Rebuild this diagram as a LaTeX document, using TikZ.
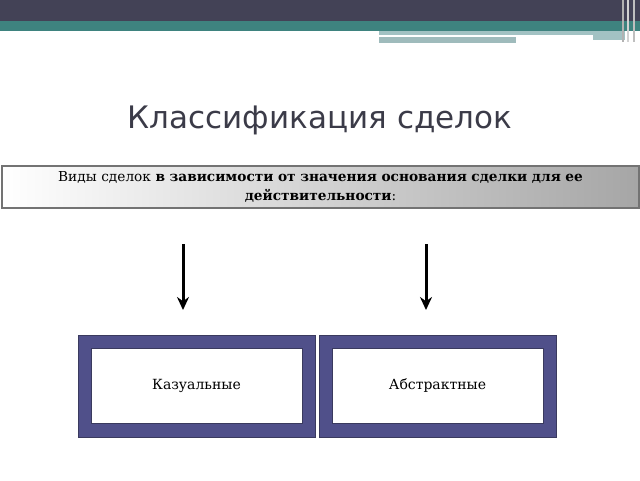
\documentclass[tikz,border=0pt]{standalone}
\usepackage{fontspec}
\setmainfont{DejaVu Serif}
\newfontfamily\titlefont{DejaVu Sans}
\usetikzlibrary{shapes.geometric, arrows, arrows.meta}
\definecolor{topbar}{HTML}{434256}
\definecolor{tealbar}{HTML}{3E837F}
\definecolor{lightteal}{HTML}{A2C2C3}
\definecolor{titlegray}{HTML}{3B3B48}
\definecolor{framecol}{HTML}{50508A}
\definecolor{framedark}{HTML}{3A3A5E}
\tikzstyle{title} = [font=\titlefont\fontsize{31}{35}\selectfont, text=titlegray, anchor=base]
\tikzstyle{header} = [rectangle, draw=gray!90!black, line width=1.3pt, left color=white, right color=gray!70, minimum width=637pt, minimum height=42pt, text width=620pt, align=center, font=\fontsize{13.7}{19}\selectfont]
\tikzstyle{frame} = [rectangle, draw=framedark, fill=framecol, line width=1pt, minimum width=237pt, minimum height=102pt]
\tikzstyle{inner} = [rectangle, draw=framedark, fill=white, minimum width=211pt, minimum height=75pt, font=\fontsize{14}{16}\selectfont]
\tikzstyle{arrow} = [line width=3pt,->,>={Stealth[length=13pt,width=12pt]}]

\begin{document}
\begin{tikzpicture}[x=1pt, y=-1pt]
            \useasboundingbox (0,0) rectangle (640,480);
            % top decoration
            \fill [topbar] (0,0) rectangle (640,21);
            \fill [tealbar] (0,21) rectangle (640,31);
            \fill [lightteal] (379,31) rectangle (625,35);
            \fill [white] (379,35) rectangle (593,36.5);
            \fill [lightteal!90!gray] (379,37) rectangle (516,43);
            \fill [lightteal] (593,35) rectangle (625,40);
            \fill [gray!60] (622,0) rectangle (624,42);
            \fill [gray!35] (627,0) rectangle (629,42);
            \fill [gray!50] (633,0) rectangle (635,42);

            \node [title] at (320,128) (title) {Классификация сделок};
            \node [header] at (320.5,187) (hdr) {Виды сделок \textbf{в зависимости от значения основания сделки для ее}\\ \textbf{действительности}:};

            \node [frame] at (196.5,386) (kazframe) {};
            \node [inner] at (196.5,386) (kaz) {Казуальные};
            \node [frame] at (437.5,386) (absframe) {};
            \node [inner] at (437.5,386) (abs) {Абстрактные};

            \coordinate (a1top) at (183,244);
            \coordinate (a1end) at (183,310);
            \coordinate (a2top) at (426,244);
            \coordinate (a2end) at (426,310);
            \draw [arrow] (a1top) -- (a1end);
            \draw [arrow] (a2top) -- (a2end);
\end{tikzpicture}
\end{document}
